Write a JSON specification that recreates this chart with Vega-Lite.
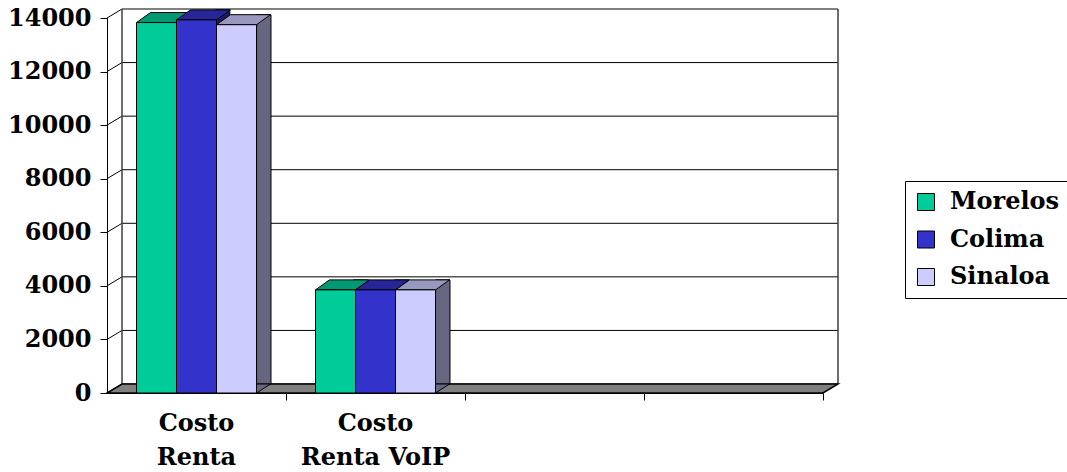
{
  "$schema": "https://vega.github.io/schema/vega-lite/v6.json",
  "autosize": {"type": "none"},
  "padding": {"left": 107, "top": 18, "right": 244, "bottom": 79},
  "width": 716,
  "height": 375,
  "background": "white",
  "config": {"view": {"stroke": null}},
  "datasets": {
    "bars": [
      {"cat": "Costo Renta", "series": "Morelos", "value": 13830},
      {"cat": "Costo Renta", "series": "Colima", "value": 13930},
      {"cat": "Costo Renta", "series": "Sinaloa", "value": 13750},
      {"cat": "Costo Renta VoIP", "series": "Morelos", "value": 3850},
      {"cat": "Costo Renta VoIP", "series": "Colima", "value": 3850},
      {"cat": "Costo Renta VoIP", "series": "Sinaloa", "value": 3850}
    ],
    "grid": [
      {"level": 0}, {"level": 2000}, {"level": 4000}, {"level": 6000},
      {"level": 8000}, {"level": 10000}, {"level": 12000}, {"level": 14000}
    ]
  },
  "layer": [
    {
      "data": {"name": "grid"},
      "mark": {"type": "point", "shape": "M-0.13952,0L-0.11613,-0.01403L1,-0.01403", "size": 1646089, "filled": false, "stroke": "black", "strokeWidth": 1, "opacity": 1},
      "encoding": {
        "x": {"datum": "Costo Renta", "type": "nominal"},
        "y": {"field": "level", "type": "quantitative"}
      }
    },
    {
      "data": {"name": "grid"},
      "transform": [{"filter": "datum.level == 0"}],
      "mark": {"type": "point", "shape": "M-0.11613,-0.01403L-0.11613,-0.5986M1,-0.5986L1,-0.01403", "size": 1646089, "filled": false, "stroke": "#404040", "strokeWidth": 1.5, "opacity": 1},
      "encoding": {
        "x": {"datum": "Costo Renta", "type": "nominal"},
        "y": {"field": "level", "type": "quantitative"}
      }
    },
    {
      "data": {"name": "grid"},
      "transform": [{"filter": "datum.level == 0"}],
      "mark": {"type": "point", "shape": "M-0.13952,0L0.97662,0L1,-0.01403L-0.11613,-0.01403Z", "size": 1646089, "filled": true, "fill": "#808080", "stroke": "black", "strokeWidth": 1.5, "opacity": 1},
      "encoding": {
        "x": {"datum": "Costo Renta", "type": "nominal"},
        "y": {"field": "level", "type": "quantitative"}
      }
    },
    {
      "data": {"name": "bars"},
      "mark": {"type": "bar", "stroke": "black", "strokeWidth": 1, "yOffset": -10, "y2Offset": -9},
      "encoding": {
        "x": {"field": "cat", "type": "nominal"},
        "xOffset": {"field": "series", "type": "nominal", "scale": {"type": "band", "domain": ["Morelos", "Colima", "Sinaloa"], "paddingInner": 0.65, "paddingOuter": 1.0625, "align": 0.81765}},
        "y": {"field": "value", "type": "quantitative"},
        "y2": {"datum": 0},
        "fill": {"condition": [
          {"test": "datum.series == 'Morelos'", "value": "#00664D"},
          {"test": "datum.series == 'Colima'", "value": "#1A1A66"}
        ], "value": "#666680"}
      }
    },
    {
      "data": {"name": "bars"},
      "mark": {"type": "point", "shape": "M0.58824,0L0.58824,-0.26471L1,-0.26471Z", "size": 4624, "filled": true, "stroke": "black", "strokeWidth": 1, "opacity": 1},
      "encoding": {
        "x": {"field": "cat", "type": "nominal"},
        "xOffset": {"field": "series", "type": "nominal", "scale": {"type": "band", "domain": ["Morelos", "Colima", "Sinaloa"], "paddingInner": 0, "paddingOuter": 0.7375}},
        "y": {"datum": 0, "type": "quantitative"},
        "fill": {"condition": [
          {"test": "datum.series == 'Morelos'", "value": "#00664D"},
          {"test": "datum.series == 'Colima'", "value": "#1A1A66"}
        ], "value": "#666680"}
      }
    },
    {
      "data": {"name": "bars"},
      "mark": {"type": "point", "shape": "M-0.58824,0L0.58824,0L1,-0.29412L-0.17647,-0.29412Z", "size": 4624, "filled": true, "stroke": "black", "strokeWidth": 1, "opacity": 1},
      "encoding": {
        "x": {"field": "cat", "type": "nominal"},
        "xOffset": {"field": "series", "type": "nominal", "scale": {"type": "band", "domain": ["Morelos", "Colima", "Sinaloa"], "paddingInner": 0, "paddingOuter": 0.7375}},
        "y": {"field": "value", "type": "quantitative"},
        "fill": {"condition": [
          {"test": "datum.series == 'Morelos'", "value": "#009973"},
          {"test": "datum.series == 'Colima'", "value": "#262699"}
        ], "value": "#9999BF"}
      }
    },
    {
      "data": {"name": "bars"},
      "mark": {"type": "bar", "stroke": "black", "strokeWidth": 1},
      "encoding": {
        "x": {
          "field": "cat", "type": "nominal",
          "scale": {"type": "band", "domain": ["Costo Renta", "Costo Renta VoIP", "_3", "_4"], "paddingInner": 0, "paddingOuter": 0},
          "axis": {
            "title": null, "labelAngle": 0, "labelAlign": "center", "bandPosition": 1, "tickSize": 7, "tickColor": "black", "tickWidth": 1,
            "domainColor": "black", "domainWidth": 1, "labelPadding": 23, "labelLineHeight": 34,
            "labelFont": "DejaVu Serif", "labelFontSize": 24, "labelFontWeight": "bold", "labelColor": "black",
            "labelExpr": "datum.value == 'Costo Renta' ? ['Costo', 'Renta'] : datum.value == 'Costo Renta VoIP' ? ['Costo', 'Renta VoIP'] : ''",
            "labelOverlap": false, "labelBound": false, "labelLimit": 300
          }
        },
        "xOffset": {"field": "series", "type": "nominal", "scale": {"type": "band", "domain": ["Morelos", "Colima", "Sinaloa"], "paddingInner": 0, "paddingOuter": 0.7375}},
        "y": {
          "field": "value", "type": "quantitative",
          "scale": {"domain": [0, 14000], "nice": false, "zero": true},
          "axis": {
            "title": null, "values": [0, 2000, 4000, 6000, 8000, 10000, 12000, 14000], "grid": false,
            "tickSize": 7, "tickColor": "black", "domainColor": "black", "labelPadding": 9,
            "labelFont": "DejaVu Serif", "labelFontSize": 24, "labelFontWeight": "bold", "labelColor": "black",
            "format": "d", "labelFlush": false, "labelOverlap": false
          }
        },
        "color": {
          "field": "series", "type": "nominal",
          "scale": {"domain": ["Morelos", "Colima", "Sinaloa"], "range": ["#00CC99", "#3333CC", "#CCCCFF"]},
          "legend": {
            "orient": "none", "legendX": 798, "legendY": 163, "title": null,
            "symbolType": "square", "symbolSize": 289, "symbolStrokeColor": "black", "symbolStrokeWidth": 1, "symbolOpacity": 1,
            "labelFont": "DejaVu Serif", "labelFontSize": 24, "labelFontWeight": "bold", "labelColor": "black",
            "labelOffset": 12, "rowPadding": 13.5, "padding": 9, "strokeColor": "black", "fillColor": "white"
          }
        }
      }
    }
  ],
  "resolve": {"scale": {"xOffset": "independent"}}
}
